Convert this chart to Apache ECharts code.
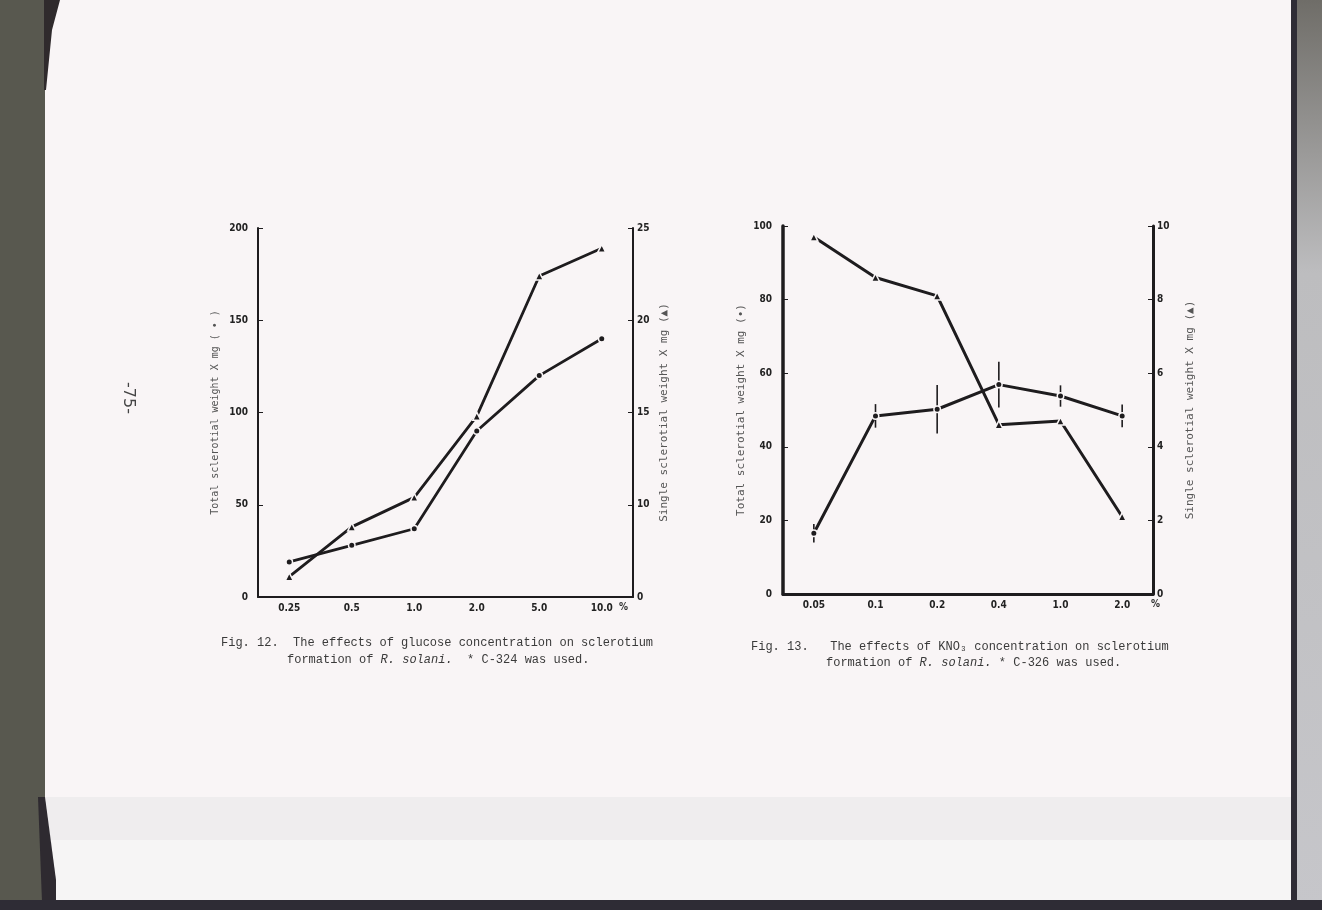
<!DOCTYPE html>
<html>
<head>
<meta charset="utf-8">
<script src="https://cdn.jsdelivr.net/npm/echarts@6/dist/echarts.min.js"></script>
<style>
  html, body { margin: 0; padding: 0; background: #f9f5f6; }
  #chart { width: 1322px; height: 910px; }
</style>
</head>
<body>
<div id="chart"></div>
<script>
// Fig. 12 - glucose
const glucoseConc = ["0.25", "0.5", "1.0", "2.0", "5.0", "10.0"];
const glucoseTotal = [19, 28, 37, 90, 120, 140];
const glucoseSingle = [6.1, 8.8, 10.4, 14.8, 22.4, 23.9];
// Fig. 13 - KNO3
const kno3Conc = ["0.05", "0.1", "0.2", "0.4", "1.0", "2.0"];
const kno3Total = [16.5, 48.4, 50.2, 56.9, 53.8, 48.4];
const kno3TotalErr = [2.5, 3.2, 6.6, 6.2, 2.9, 3.1];
const kno3Single = [9.7, 8.6, 8.1, 4.6, 4.7, 2.1];

const ink = "#1e1c1e";
const paper = "#f9f5f6";
const tickFont = "'Liberation Sans Narrow', 'DejaVu Sans Condensed', sans-serif";
const monoFont = "'DejaVu Sans Mono', 'Liberation Mono', monospace";
const capFamily = "'Liberation Mono', 'DejaVu Sans Mono', monospace";
const capSize = 12;
const capFont = capSize + "px " + capFamily;

const cap12a = "Fig. 12.  The effects of glucose concentration on sclerotium";
const cap12b = "formation of {i|R. solani.}  * C-324 was used.";
const cap13a = "Fig. 13.   The effects of KNO\u2083 concentration on sclerotium";
const cap13b = "formation of {i|R. solani.} * C-326 was used.";

const chart = echarts.init(document.getElementById("chart"));

function xAx(gridIndex, data, lw, nameGap) {
  return {
    type: "category",
    gridIndex: gridIndex,
    data: data,
    boundaryGap: true,
    name: "%",
    nameLocation: "end",
    nameGap: nameGap,
    nameTextStyle: { color: "#333", fontSize: 10, fontFamily: tickFont, fontWeight: "bold", verticalAlign: "top", padding: [5, 0, 0, 0] },
    axisLine: { lineStyle: { color: ink, width: lw } },
    axisTick: { alignWithLabel: true, inside: true, length: 4, lineStyle: { color: ink, width: 1 } },
    axisLabel: { margin: 6, color: "#222", fontSize: 10, fontWeight: "bold", fontFamily: tickFont },
    splitLine: { show: false }
  };
}

function yAx(gridIndex, pos, min, max, interval, name, nameGap, nameSize, lw, labelMargin, fmt) {
  return {
    type: "value",
    gridIndex: gridIndex,
    position: pos,
    min: min,
    max: max,
    interval: interval,
    name: name,
    nameLocation: "middle",
    nameRotate: 90,
    nameGap: nameGap,
    nameTextStyle: { color: "#555", fontSize: nameSize, fontFamily: monoFont },
    axisLine: { show: true, lineStyle: { color: ink, width: lw } },
    axisTick: { show: true, inside: true, length: 5, lineStyle: { color: ink, width: 1 } },
    axisLabel: { margin: labelMargin, color: "#222", fontSize: 10, fontWeight: "bold", fontFamily: tickFont, formatter: fmt },
    splitLine: { show: false }
  };
}

function lineSeries(xi, yi, data, symbol, size, lw) {
  return {
    type: "line",
    xAxisIndex: xi,
    yAxisIndex: yi,
    data: data,
    symbol: symbol,
    symbolSize: size,
    showSymbol: true,
    lineStyle: { color: ink, width: lw },
    itemStyle: { color: ink, borderColor: paper, borderWidth: 1.5 },
    z: 3
  };
}

const option = {
  animation: false,
  backgroundColor: paper,
  grid: [
    { left: 258, top: 228, width: 375, height: 369 },
    { left: 783, top: 226, width: 370, height: 368 }
  ],
  xAxis: [
    xAx(0, glucoseConc, 2, -14),
    xAx(1, kno3Conc, 3, -2)
  ],
  yAxis: [
    yAx(0, "left", 0, 200, 50, "Total sclerotial weight X mg ( \u2022 )", 38, 10, 2, 10),
    // right scale is broken below 10 in the original figure; its foot is labelled 0
    yAx(0, "right", 5, 25, 5, "Single sclerotial weight X mg (\u25B2)", 26, 11, 2, 4, function (v) { return v === 5 ? "0" : String(v); }),
    yAx(1, "left", 0, 100, 20, "Total sclerotial weight X mg (\u2022)", 36, 11, 3.5, 11),
    yAx(1, "right", 0, 10, 2, "Single sclerotial weight X mg (\u25B2)", 32, 11, 3, 4)
  ],
  series: [
    lineSeries(0, 0, glucoseTotal, "circle", 6.5, 2.8),
    lineSeries(0, 1, glucoseSingle, "triangle", 8, 2.8),
    lineSeries(1, 2, kno3Total, "circle", 6.5, 3),
    lineSeries(1, 3, kno3Single, "triangle", 8, 3),
    {
      type: "custom",
      xAxisIndex: 1,
      yAxisIndex: 2,
      data: kno3Total.map(function (v, i) { return [i, v - kno3TotalErr[i], v + kno3TotalErr[i]]; }),
      encode: { x: 0, y: [1, 2] },
      renderItem: function (params, api) {
        const lo = api.coord([api.value(0), api.value(1)]);
        const hi = api.coord([api.value(0), api.value(2)]);
        return {
          type: "line",
          shape: { x1: lo[0], y1: lo[1], x2: hi[0], y2: hi[1] },
          style: { stroke: ink, lineWidth: 1.6 }
        };
      },
      z: 2
    }
  ],
  graphic: [
    // scanned page surroundings
    { type: "rect", shape: { x: 0, y: 0, width: 45, height: 910 }, style: { fill: "#58584f" }, z: -10 },
    { type: "polygon", shape: { points: [[44, 0], [60, 0], [52, 30], [46, 90], [44, 90]] }, style: { fill: "#2f2a2c" }, z: -9 },
    { type: "rect", shape: { x: 44, y: 797, width: 1248, height: 43 }, style: { fill: "#efedee" }, z: -9 },
    { type: "rect", shape: { x: 44, y: 840, width: 1248, height: 60 }, style: { fill: "#f6f5f5" }, z: -9 },
    { type: "polygon", shape: { points: [[38, 797], [45, 797], [56, 880], [56, 902], [42, 902]] }, style: { fill: "#2e2a30" }, z: -8 },
    { type: "rect", shape: { x: 1291, y: 0, width: 6, height: 910 }, style: { fill: "#2f2d36" }, z: -8 },
    {
      type: "rect", shape: { x: 1297, y: 0, width: 25, height: 910 }, z: -8,
      style: { fill: new echarts.graphic.LinearGradient(0, 0, 0, 1, [
        { offset: 0, color: "#6f6d68" }, { offset: 0.3, color: "#bdbdbf" }, { offset: 1, color: "#c6c6ca" }
      ]) }
    },
    { type: "rect", shape: { x: 0, y: 900, width: 1322, height: 10 }, style: { fill: "#2e2c35" }, z: -7 },
    // page number
    {
      type: "text", x: 128, y: 398, rotation: -Math.PI / 2,
      style: { text: "-75-", font: "16px 'DejaVu Sans', sans-serif", fill: "#444", align: "center", verticalAlign: "middle" }
    },
    // captions
    { type: "text", x: 221, y: 643, style: { text: cap12a, font: capFont, fill: "#3a3a3a", verticalAlign: "middle" } },
    {
      type: "text", x: 287, y: 660,
      style: {
        text: cap12b, font: capFont, fill: "#3a3a3a", verticalAlign: "middle",
        rich: { i: { fontStyle: "italic", fontSize: capSize, fontFamily: capFamily, fill: "#3a3a3a" } }
      }
    },
    { type: "text", x: 751, y: 647, style: { text: cap13a, font: capFont, fill: "#3a3a3a", verticalAlign: "middle" } },
    {
      type: "text", x: 826, y: 663,
      style: {
        text: cap13b, font: capFont, fill: "#3a3a3a", verticalAlign: "middle",
        rich: { i: { fontStyle: "italic", fontSize: capSize, fontFamily: capFamily, fill: "#3a3a3a" } }
      }
    }
  ]
};

chart.setOption(option);
</script>
</body>
</html>
